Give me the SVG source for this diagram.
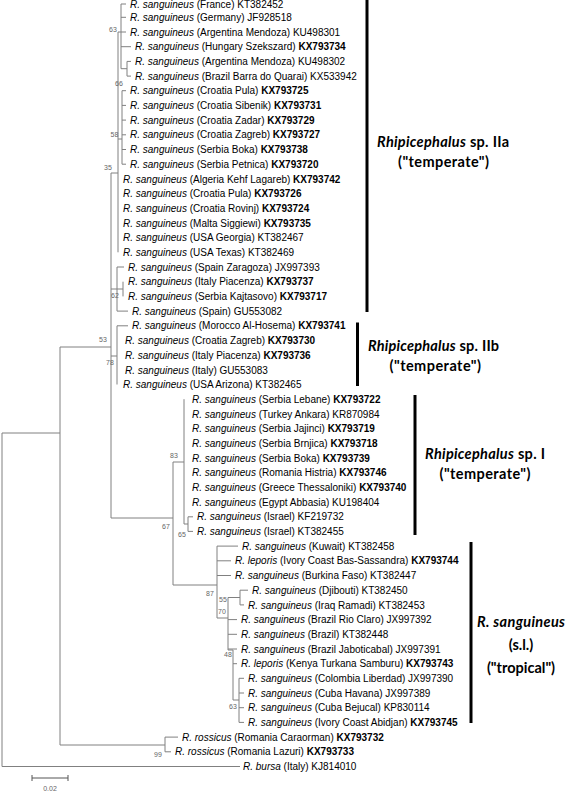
<svg xmlns="http://www.w3.org/2000/svg" width="567" height="797" viewBox="0 0 567 797">
<style>
.t{font-family:"Liberation Sans",Arial,sans-serif;font-size:10px;fill:#000}
.i{font-style:italic}
.b{font-weight:bold}
.bs{font-family:"Liberation Sans",Arial,sans-serif;font-size:7px;fill:#666;text-anchor:middle}
.br{fill:none;stroke:#808080;stroke-width:1}
.bar{stroke:#000;stroke-width:3}
.cl{font-family:Lato,"Liberation Sans",sans-serif;font-weight:bold;font-size:14.5px;fill:#000}
</style>
<rect width="567" height="797" fill="#fff"/>
<g id="connectors" class="br">
<path d="M2,433V766.5M2,433H60M2,766.5H240"/>
<path d="M60,347V745M60,745H165M165,737.1V751.8M165,737.1H178M165,751.8H171"/>
<path d="M60,347H111M111,173V518"/>
<path d="M111,173H118M118,32V252.3"/>
<path d="M118,32H121M121,4V68.7M121,4H126M121,17.3H126M121,32H126M121,46.7H131M121,68.7H127M127,61.4V76.1M127,61.4H131M127,76.1H131"/>
<path d="M118,139H122M122,90.7V164.2M122,90.7H126M122,105.4H126M122,120.1H126M122,134.8H126M122,149.5H126M122,164.2H126"/>
<path d="M111,289H117M117,267V311.1M117,267H124M117,289H123M123,281.7V296.4M117,311.1H128"/>
<path d="M111,356H117M117,325.8V384.5M117,325.8H128"/>
<path d="M111,518H173M173,462V585"/>
<path d="M173,462H184M184,399.2V524M184,524H188M188,516.8V531.4M188,516.8H193M188,531.4H193"/>
<path d="M173,585H217M217,546.1V618M217,546.1H238M217,560.8H231M217,575.5H231"/>
<path d="M217,618H228M228,597.5V650M228,597.5H240M240,590.2V604.9M240,590.2H248M240,604.9H244M228,619.6H237M228,634.3H237M228,649H237"/>
<path d="M228,650H233M233,650V700M233,663.7H237M233,700H239M239,678.3V722.4M239,678.3H244M239,693H244M239,707.7H244M239,722.4H244"/>
<path d="M32,778H68M32,775V781M68,775V781" stroke="#555"/>
</g>
<g id="scale"><text x="50" y="791" class="bs">0.02</text></g>
<g id="bootstrap">
<text class="bs" x="113" y="32">63</text>
<text class="bs" x="119" y="86">66</text>
<text class="bs" x="114.5" y="137">58</text>
<text class="bs" x="108" y="170">35</text>
<text class="bs" x="103" y="342">53</text>
<text class="bs" x="115" y="298">62</text>
<text class="bs" x="110" y="365">78</text>
<text class="bs" x="174" y="458">83</text>
<text class="bs" x="166" y="529">67</text>
<text class="bs" x="182" y="537">65</text>
<text class="bs" x="210" y="596">87</text>
<text class="bs" x="223" y="602">55</text>
<text class="bs" x="222" y="614">70</text>
<text class="bs" x="228" y="657">48</text>
<text class="bs" x="233" y="709">63</text>
<text class="bs" x="158" y="757">99</text>
</g>
<g id="taxa" class="t">
<g id="n1"><text x="130" y="7.8"><tspan class="i">R. sanguineus</tspan> (France) KT382452</text></g>
<g id="n2"><text x="130" y="20.9"><tspan class="i">R. sanguineus</tspan> (Germany) JF928518</text></g>
<g id="n3"><text x="130" y="35.6"><tspan class="i">R. sanguineus</tspan> (Argentina Mendoza) KU498301</text></g>
<g id="n4"><text x="135" y="50.3"><tspan class="i">R. sanguineus</tspan> (Hungary Szekszard) <tspan class="b">KX793734</tspan></text></g>
<g id="n5"><text x="135" y="65"><tspan class="i">R. sanguineus</tspan> (Argentina Mendoza) KU498302</text></g>
<g id="n6"><text x="135" y="79.7"><tspan class="i">R. sanguineus</tspan> (Brazil Barra do Quarai) KX533942</text></g>
<g id="n7"><text x="130" y="94.3"><tspan class="i">R. sanguineus</tspan> (Croatia Pula) <tspan class="b">KX793725</tspan></text></g>
<g id="n8"><text x="130" y="109"><tspan class="i">R. sanguineus</tspan> (Croatia Sibenik) <tspan class="b">KX793731</tspan></text></g>
<g id="n9"><text x="130" y="123.7"><tspan class="i">R. sanguineus</tspan> (Croatia Zadar) <tspan class="b">KX793729</tspan></text></g>
<g id="n10"><text x="130" y="138.4"><tspan class="i">R. sanguineus</tspan> (Croatia Zagreb) <tspan class="b">KX793727</tspan></text></g>
<g id="n11"><text x="130" y="153.1"><tspan class="i">R. sanguineus</tspan> (Serbia Boka) <tspan class="b">KX793738</tspan></text></g>
<g id="n12"><text x="130" y="167.8"><tspan class="i">R. sanguineus</tspan> (Serbia Petnica) <tspan class="b">KX793720</tspan></text></g>
<g id="n13"><text x="123" y="182.5"><tspan class="i">R. sanguineus</tspan> (Algeria Kehf Lagareb) <tspan class="b">KX793742</tspan></text></g>
<g id="n14"><text x="123" y="197.2"><tspan class="i">R. sanguineus</tspan> (Croatia Pula) <tspan class="b">KX793726</tspan></text></g>
<g id="n15"><text x="123" y="211.9"><tspan class="i">R. sanguineus</tspan> (Croatia Rovinj) <tspan class="b">KX793724</tspan></text></g>
<g id="n16"><text x="123" y="226.6"><tspan class="i">R. sanguineus</tspan> (Malta Siggiewi) <tspan class="b">KX793735</tspan></text></g>
<g id="n17"><text x="123" y="241.2"><tspan class="i">R. sanguineus</tspan> (USA Georgia) KT382467</text></g>
<g id="n18"><text x="123" y="255.9"><tspan class="i">R. sanguineus</tspan> (USA Texas) KT382469</text></g>
<g id="n19"><text x="128" y="270.6"><tspan class="i">R. sanguineus</tspan> (Spain Zaragoza) JX997393</text></g>
<g id="n20"><text x="128" y="285.3"><tspan class="i">R. sanguineus</tspan> (Italy Piacenza) <tspan class="b">KX793737</tspan></text></g>
<g id="n21"><text x="128" y="300"><tspan class="i">R. sanguineus</tspan> (Serbia Kajtasovo) <tspan class="b">KX793717</tspan></text></g>
<g id="n22"><text x="132" y="314.7"><tspan class="i">R. sanguineus</tspan> (Spain) GU553082</text></g>
<g id="n23"><text x="132" y="329.4"><tspan class="i">R. sanguineus</tspan> (Morocco Al-Hosema) <tspan class="b">KX793741</tspan></text></g>
<g id="n24"><text x="125" y="344.1"><tspan class="i">R. sanguineus</tspan> (Croatia Zagreb) <tspan class="b">KX793730</tspan></text></g>
<g id="n25"><text x="125" y="358.8"><tspan class="i">R. sanguineus</tspan> (Italy Piacenza) <tspan class="b">KX793736</tspan></text></g>
<g id="n26"><text x="125" y="373.5"><tspan class="i">R. sanguineus</tspan> (Italy) GU553083</text></g>
<g id="n27"><text x="123" y="388.1"><tspan class="i">R. sanguineus</tspan> (USA Arizona) KT382465</text></g>
<g id="n28"><text x="192" y="402.8"><tspan class="i">R. sanguineus</tspan> (Serbia Lebane) <tspan class="b">KX793722</tspan></text></g>
<g id="n29"><text x="192" y="417.5"><tspan class="i">R. sanguineus</tspan> (Turkey Ankara) KR870984</text></g>
<g id="n30"><text x="192" y="432.2"><tspan class="i">R. sanguineus</tspan> (Serbia Jajinci) <tspan class="b">KX793719</tspan></text></g>
<g id="n31"><text x="192" y="446.9"><tspan class="i">R. sanguineus</tspan> (Serbia Brnjica) <tspan class="b">KX793718</tspan></text></g>
<g id="n32"><text x="192" y="461.6"><tspan class="i">R. sanguineus</tspan> (Serbia Boka) <tspan class="b">KX793739</tspan></text></g>
<g id="n33"><text x="192" y="476.3"><tspan class="i">R. sanguineus</tspan> (Romania Histria) <tspan class="b">KX793746</tspan></text></g>
<g id="n34"><text x="192" y="491"><tspan class="i">R. sanguineus</tspan> (Greece Thessaloniki) <tspan class="b">KX793740</tspan></text></g>
<g id="n35"><text x="192" y="505.7"><tspan class="i">R. sanguineus</tspan> (Egypt Abbasia) KU198404</text></g>
<g id="n36"><text x="197" y="520.4"><tspan class="i">R. sanguineus</tspan> (Israel) KF219732</text></g>
<g id="n37"><text x="197" y="535"><tspan class="i">R. sanguineus</tspan> (Israel) KT382455</text></g>
<g id="n38"><text x="242" y="549.7"><tspan class="i">R. sanguineus</tspan> (Kuwait) KT382458</text></g>
<g id="n39"><text x="235" y="564.4"><tspan class="i">R. leporis</tspan> (Ivory Coast Bas-Sassandra) <tspan class="b">KX793744</tspan></text></g>
<g id="n40"><text x="235" y="579.1"><tspan class="i">R. sanguineus</tspan> (Burkina Faso) KT382447</text></g>
<g id="n41"><text x="252" y="593.8"><tspan class="i">R. sanguineus</tspan> (Djibouti) KT382450</text></g>
<g id="n42"><text x="248" y="608.5"><tspan class="i">R. sanguineus</tspan> (Iraq Ramadi) KT382453</text></g>
<g id="n43"><text x="241" y="623.2"><tspan class="i">R. sanguineus</tspan> (Brazil Rio Claro) JX997392</text></g>
<g id="n44"><text x="241" y="637.9"><tspan class="i">R. sanguineus</tspan> (Brazil) KT382448</text></g>
<g id="n45"><text x="241" y="652.6"><tspan class="i">R. sanguineus</tspan> (Brazil Jaboticabal) JX997391</text></g>
<g id="n46"><text x="241" y="667.3"><tspan class="i">R. leporis</tspan> (Kenya Turkana Samburu) <tspan class="b">KX793743</tspan></text></g>
<g id="n47"><text x="248" y="681.9"><tspan class="i">R. sanguineus</tspan> (Colombia Liberdad) JX997390</text></g>
<g id="n48"><text x="248" y="696.6"><tspan class="i">R. sanguineus</tspan> (Cuba Havana) JX997389</text></g>
<g id="n49"><text x="248" y="711.3"><tspan class="i">R. sanguineus</tspan> (Cuba Bejucal) KP830114</text></g>
<g id="n50"><text x="248" y="726"><tspan class="i">R. sanguineus</tspan> (Ivory Coast Abidjan) <tspan class="b">KX793745</tspan></text></g>
<g id="n51"><text x="182" y="740.7"><tspan class="i">R. rossicus</tspan> (Romania Caraorman) <tspan class="b">KX793732</tspan></text></g>
<g id="n52"><text x="175" y="755.4"><tspan class="i">R. rossicus</tspan> (Romania Lazuri) <tspan class="b">KX793733</tspan></text></g>
<g id="n53"><text x="243" y="770.1"><tspan class="i">R. bursa</tspan> (Italy) KJ814010</text></g>
</g>
<g id="clade-IIa">
<line class="bar" x1="367" y1="0" x2="367" y2="312"/>
<text class="cl" x="377" y="146.5" textLength="132"><tspan class="i">Rhipicephalus</tspan> sp. IIa</text>
<text class="cl" x="398" y="166.5" textLength="91">("temperate")</text>
</g>
<g id="clade-IIb">
<line class="bar" x1="357.5" y1="322.5" x2="357.5" y2="386"/>
<text class="cl" x="368" y="350.5" textLength="131"><tspan class="i">Rhipicephalus</tspan> sp. IIb</text>
<text class="cl" x="389.5" y="370.5" textLength="91.5">("temperate")</text>
</g>
<g id="clade-I">
<line class="bar" x1="415" y1="395" x2="415" y2="535"/>
<text class="cl" x="425" y="459" textLength="120"><tspan class="i">Rhipicephalus</tspan> sp. I</text>
<text class="cl" x="439.5" y="479" textLength="91">("temperate")</text>
</g>
<g id="clade-tropical">
<line class="bar" x1="471" y1="542" x2="471" y2="723"/>
<text class="cl i" x="477" y="627" textLength="88">R. sanguineus</text>
<text class="cl" x="521" y="650" text-anchor="middle">(s.l.)</text>
<text class="cl" x="521" y="673" text-anchor="middle">("tropical")</text>
</g>
</svg>
